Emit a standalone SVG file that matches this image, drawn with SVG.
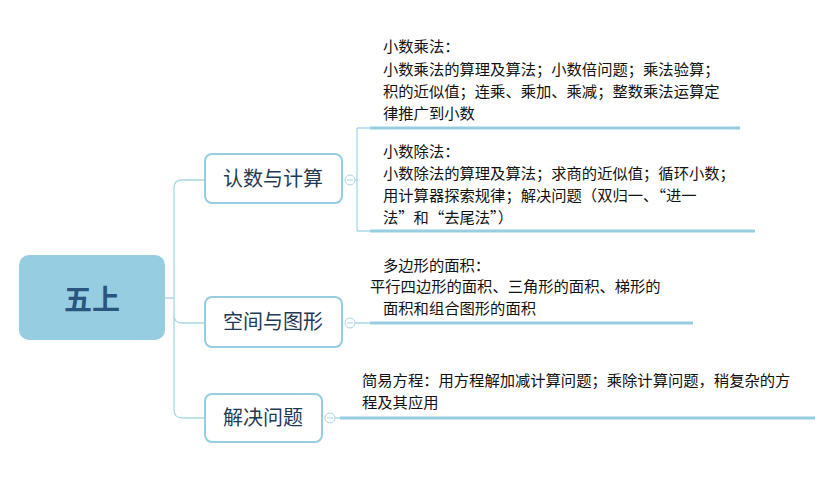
<svg xmlns="http://www.w3.org/2000/svg" width="831" height="484" viewBox="0 0 831 484">
<style>
.c{fill:none;stroke:#a9d7e5;stroke-width:1.3}
.u{stroke:#96cde0;stroke-width:3}
.b{fill:#fff;stroke:#96cde0;stroke-width:2}
.t1{font-family:"Noto Sans CJK SC",sans-serif;font-size:20px;fill:#1f3a55;text-anchor:middle}
.t{font-family:"Noto Sans CJK SC",sans-serif;font-size:15.3px;fill:#111}
.k{fill:#fff;stroke:#a9d7e5;stroke-width:1}
.m{stroke:#a9d7e5;stroke-width:1}
</style>
<rect width="831" height="484" fill="#fff"/>
<g id="connectors">
<path class="c" d="M165,298 H174 M174,188 Q174,180 182,180 H205 M174,188 V410 Q174,418 182,418 H205 M174,315 Q174,323 182,323 H205"/>
<path class="c" d="M355,180 H357 M357,128 V231 M357,128 H370 M357,231 H370 M355,323 H370 M335,418 H340"/>
<line class="u" x1="370" y1="128" x2="740" y2="128"/>
<line class="u" x1="370" y1="231" x2="755" y2="231"/>
<line class="u" x1="370" y1="323" x2="693" y2="323"/>
<line class="u" x1="340" y1="418" x2="815" y2="418"/>
</g>
<g id="root">
<rect x="19" y="255" width="146" height="85" rx="10" fill="#96cde0"/>
<text x="92" y="310" font-family="Noto Sans CJK SC,sans-serif" font-size="28" font-weight="bold" fill="#2a5580" text-anchor="middle">五上</text>
</g>
<g id="n1">
<rect class="b" x="205" y="154" width="137" height="49" rx="7"/>
<text class="t1" x="273" y="186">认数与计算</text>
<circle class="k" cx="350" cy="180" r="5"/><line class="m" x1="347" y1="180" x2="353" y2="180"/>
</g>
<g id="n2">
<rect class="b" x="205" y="297" width="137" height="50" rx="7"/>
<text class="t1" x="273" y="329">空间与图形</text>
<circle class="k" cx="350" cy="323" r="5"/><line class="m" x1="347" y1="323" x2="353" y2="323"/>
</g>
<g id="n3">
<rect class="b" x="205" y="394" width="117" height="48" rx="7"/>
<text class="t1" x="263" y="425">解决问题</text>
<circle class="k" cx="330" cy="418" r="5"/><line class="m" x1="327" y1="418" x2="333" y2="418"/>
</g>
<g id="s1">
<text class="t" x="383" y="52">小数乘法：</text>
<text class="t" x="383" y="75">小数乘法的算理及算法；小数倍问题；乘法验算；</text>
<text class="t" x="383" y="97">积的近似值；连乘、乘加、乘减；整数乘法运算定</text>
<text class="t" x="383" y="119">律推广到小数</text>
</g>
<g id="s2">
<text class="t" x="383" y="157">小数除法：</text>
<text class="t" x="383" y="179">小数除法的算理及算法；求商的近似值；循环小数；</text>
<text class="t" x="383" y="201">用计算器探索规律；解决问题（双归一、“进一</text>
<text class="t" x="383" y="223">法”和“去尾法”）</text>
</g>
<g id="s3">
<text class="t" x="383" y="271">多边形的面积：</text>
<text class="t" x="370" y="292">平行四边形的面积、三角形的面积、梯形的</text>
<text class="t" x="383" y="314">面积和组合图形的面积</text>
</g>
<g id="s4">
<text class="t" x="362" y="386">简易方程：用方程解加减计算问题；乘除计算问题，稍复杂的方</text>
<text class="t" x="362" y="408">程及其应用</text>
</g>
</svg>
